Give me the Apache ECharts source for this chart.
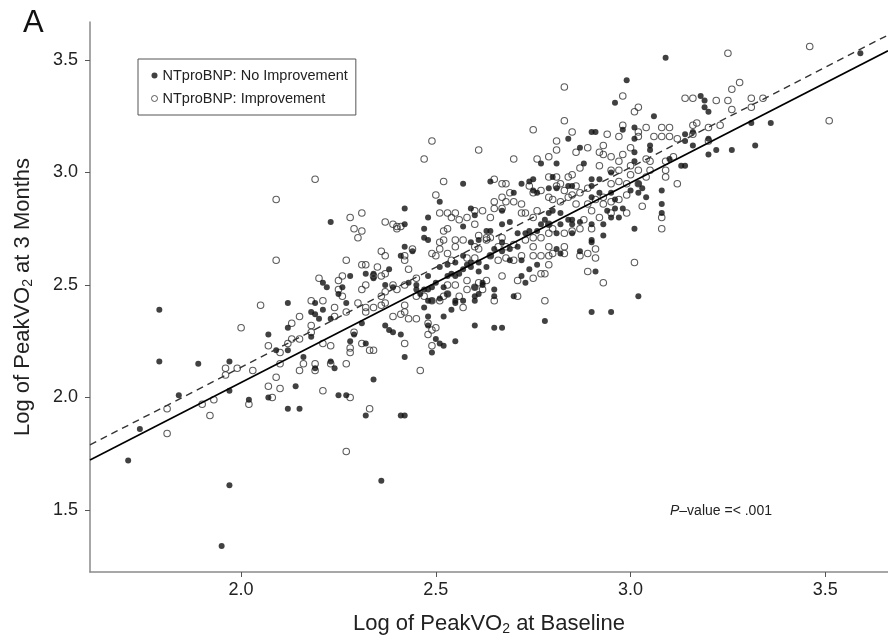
<!DOCTYPE html>
<html><head><meta charset="utf-8">
<script src="https://cdn.jsdelivr.net/npm/echarts@6/dist/echarts.min.js"></script>
<style>html,body{margin:0;padding:0;background:#fff}#c{width:888px;height:643px}</style>
</head><body><div id="c"></div>
<script>
const seriesNames = ['NTproBNP: No Improvement', 'NTproBNP: Improvement'];
const xTicks = [2.0, 2.5, 3.0, 3.5];
const yTicks = [1.5, 2.0, 2.5, 3.0, 3.5];
const xRange = [1.612, 3.661];
const yRange = [1.224, 3.669];

// filled circles
const noImprovement = [
[1.79,2.39],[1.79,2.16],[1.89,2.15],[1.84,2.01],[1.74,1.86],[1.71,1.72],[1.97,2.16],[1.97,2.03],[2.02,1.99],[1.97,1.61],[1.95,1.34],[2.07,2.28],[2.12,2.42],[2.12,2.31],[2.09,2.21],[2.12,2.21],[2.07,2.00],[2.12,1.95],[2.15,1.95],[2.14,2.05],[2.16,2.18],[2.18,2.27],[2.19,2.13],[2.19,2.42],[2.18,2.38],[2.19,2.37],[2.20,2.35],[2.21,2.39],[2.21,2.51],[2.22,2.49],[2.23,2.35],
[2.23,2.78],[2.42,2.84],[2.42,2.77],[2.48,2.80],[2.47,2.75],[2.47,2.71],[2.48,2.70],[2.51,2.87],[2.57,2.95],[2.64,2.96],[2.77,3.04],[2.59,2.84],[2.60,2.81],[2.57,2.76],[2.42,2.67],[2.44,2.65],[2.41,2.63],[2.28,2.54],[2.32,2.55],[2.34,2.55],[2.34,2.53],[2.37,2.50],[2.39,2.49],[2.26,2.49],[2.25,2.46],[2.27,2.42],[2.23,2.16],[2.24,2.13],[2.31,2.33],[2.28,2.25],[2.29,2.28],[2.32,2.24],[2.37,2.32],[2.38,2.30],[2.39,2.29],[2.41,2.28],[2.42,2.18],[2.34,2.08],[2.25,2.01],[2.27,2.01],[2.32,1.92],[2.41,1.92],[2.42,1.92],[2.49,2.20],[2.50,2.26],[2.51,2.24],[2.52,2.23],[2.55,2.25],[2.52,2.36],[2.48,2.36],[2.48,2.32],[2.47,2.40],[2.48,2.43],[2.49,2.43],[2.51,2.44],[2.53,2.46],[2.55,2.42],[2.54,2.39],[2.55,2.43],[2.57,2.43],[2.46,2.46],[2.47,2.48],[2.48,2.48],[2.45,2.48],[2.43,2.51],[2.45,2.50],[2.53,2.54],[2.54,2.55],[2.55,2.54],[2.57,2.57],[2.58,2.59],[2.59,2.58],[2.61,2.56],[2.61,2.60],[2.63,2.58],[2.64,2.63],[2.65,2.66],[2.67,2.69],[2.67,2.65],[2.69,2.66],[2.69,2.61],[2.71,2.67],[2.71,2.73],[2.73,2.73],[2.74,2.74],[2.76,2.74],[2.77,2.77],[2.78,2.79],[2.79,2.82],[2.76,2.91],[2.75,2.92],[2.74,2.96],[2.75,2.97],[2.72,2.95],[2.70,2.91],[2.67,2.83],[2.69,2.78],[2.67,2.77],[2.64,2.74],[2.63,2.74],[2.61,2.70],[2.59,2.69],[2.60,2.49],[2.60,2.45],[2.61,2.46],[2.62,2.50],[2.65,2.31],[2.67,2.31],[2.65,2.48],[2.65,2.45],[2.70,2.45],[2.73,2.51],[2.76,2.59],[2.78,2.34],[2.51,2.58],[2.53,2.59],[2.55,2.60],[2.57,2.63],[2.59,2.60],[2.56,2.55],[2.49,2.49],[2.50,2.51],[2.48,2.54],[2.52,2.49],[2.60,2.32],[2.60,2.43],[2.72,2.54],[2.74,2.57],[2.72,2.61],[2.62,2.51],[2.38,2.57],
[3.09,3.51],[2.99,3.41],[2.96,3.31],[3.06,3.25],[3.18,3.34],[3.19,3.32],[3.19,3.29],[3.20,3.27],[2.84,3.15],[2.87,3.11],[2.90,3.18],[2.91,3.18],[2.98,3.19],[3.01,3.15],[3.01,3.20],[3.05,3.12],[3.05,3.10],[3.01,3.05],[3.01,3.09],[3.14,3.17],[3.16,3.18],[3.14,3.14],[3.16,3.12],[3.20,3.15],[3.20,3.08],[3.22,3.10],[3.13,3.03],[3.14,3.03],[3.10,3.06],[2.81,3.04],[2.88,3.04],[2.95,3.00],[2.80,2.98],[2.84,2.94],[2.85,2.94],[2.90,2.97],[2.92,2.97],[2.90,2.94],[2.95,2.91],[2.92,2.91],[2.90,2.89],[2.96,2.88],[3.02,2.95],[3.02,2.91],[3.00,2.92],[3.03,2.93],[3.08,2.92],[3.08,2.86],[3.08,2.82],[3.04,2.89],[2.98,2.84],[2.96,2.84],[2.95,2.80],[2.97,2.80],[2.94,2.83],[2.93,2.77],[2.90,2.77],[2.87,2.78],[2.85,2.79],[2.82,2.82],[2.80,2.83],[2.79,2.77],[2.82,2.77],[2.84,2.79],[2.85,2.77],[2.81,2.73],[2.85,2.73],[2.93,2.72],[3.01,2.75],[2.90,2.70],[2.79,2.93],[2.81,2.93],
[2.90,2.69],[2.81,2.66],[2.82,2.64],[2.87,2.65],[2.91,2.56],[3.02,2.45],[2.90,2.38],[2.95,2.38],
[3.59,3.53],[3.31,3.22],[3.36,3.22],[3.26,3.10],[3.32,3.12],
[2.36,1.63]
];

// open circles
const improvement = [
[2.05,2.41],[2.00,2.31],[2.07,2.23],[1.96,2.13],[1.96,2.10],[1.99,2.13],[2.03,2.12],[1.81,1.95],[1.81,1.84],[1.90,1.97],[1.93,1.99],[1.92,1.92],[2.02,1.97],[2.07,2.05],[2.08,2.00],[2.09,2.09],[2.10,2.04],[2.10,2.20],[2.10,2.15],[2.12,2.24],[2.13,2.26],[2.13,2.33],[2.15,2.36],[2.15,2.26],[2.15,2.12],[2.16,2.15],[2.18,2.43],[2.21,2.43],[2.18,2.32],[2.18,2.29],[2.19,2.15],[2.19,2.12],[2.21,2.24],[2.21,2.03],[2.23,2.23],[2.23,2.15],
[2.19,2.97],[2.47,3.06],[2.61,3.10],[2.70,3.06],[2.76,3.06],[2.52,2.96],[2.50,2.90],[2.65,2.97],[2.28,2.80],[2.31,2.82],[2.29,2.75],[2.31,2.74],[2.30,2.71],[2.37,2.78],[2.39,2.77],[2.40,2.76],[2.40,2.75],[2.41,2.76],[2.27,2.61],[2.36,2.65],[2.37,2.63],[2.42,2.63],[2.42,2.61],[2.44,2.66],[2.31,2.59],[2.32,2.59],[2.35,2.58],[2.37,2.55],[2.43,2.57],[2.45,2.53],[2.20,2.53],[2.26,2.54],[2.25,2.52],[2.25,2.48],[2.26,2.45],[2.32,2.50],[2.31,2.48],[2.24,2.40],[2.24,2.36],[2.27,2.38],[2.32,2.38],[2.34,2.40],[2.36,2.41],[2.39,2.36],[2.41,2.37],[2.42,2.38],[2.43,2.35],[2.45,2.35],[2.42,2.41],[2.48,2.33],[2.50,2.31],[2.49,2.30],[2.48,2.28],[2.29,2.29],[2.31,2.24],[2.33,2.21],[2.34,2.21],[2.28,2.22],[2.28,2.20],[2.27,2.15],[2.42,2.24],[2.49,2.23],[2.46,2.12],[2.28,2.00],[2.33,1.95],[2.51,2.82],[2.53,2.82],[2.54,2.80],[2.55,2.82],[2.56,2.79],[2.58,2.80],[2.60,2.83],[2.62,2.83],[2.64,2.80],[2.60,2.77],[2.61,2.72],[2.63,2.71],[2.52,2.74],[2.53,2.75],[2.51,2.69],[2.52,2.70],[2.55,2.70],[2.57,2.70],[2.55,2.67],[2.51,2.66],[2.49,2.64],[2.50,2.63],[2.53,2.64],[2.54,2.61],[2.58,2.62],[2.60,2.67],[2.60,2.62],[2.61,2.66],[2.63,2.70],[2.64,2.71],[2.67,2.71],[2.66,2.67],[2.68,2.67],[2.70,2.68],[2.64,2.63],[2.66,2.61],[2.68,2.62],[2.70,2.61],[2.72,2.63],[2.75,2.63],[2.77,2.63],[2.79,2.63],[2.67,2.95],[2.68,2.95],[2.69,2.91],[2.67,2.89],[2.65,2.87],[2.65,2.84],[2.67,2.84],[2.68,2.87],[2.70,2.87],[2.72,2.86],[2.72,2.82],[2.73,2.82],[2.75,2.91],[2.77,2.92],[2.74,2.94],[2.79,2.98],[2.79,2.89],[2.76,2.83],[2.75,2.80],[2.79,2.77],[2.79,2.73],[2.77,2.71],[2.75,2.71],[2.73,2.70],[2.75,2.67],[2.79,2.59],[2.78,2.55],[2.77,2.55],[2.75,2.53],[2.71,2.52],[2.67,2.54],[2.58,2.48],[2.60,2.49],[2.62,2.48],[2.52,2.45],[2.53,2.46],[2.51,2.43],[2.49,2.43],[2.53,2.50],[2.55,2.50],[2.47,2.45],[2.45,2.45],[2.57,2.40],[2.56,2.45],[2.63,2.52],[2.61,2.51],[2.58,2.52],[2.65,2.43],[2.71,2.45],[2.78,2.43],[2.42,2.50],[2.40,2.48],[2.37,2.47],[2.39,2.50],[2.36,2.45],[2.37,2.42],[2.32,2.40],[2.30,2.42],[2.34,2.54],[2.36,2.54],
[3.25,3.53],[2.83,3.38],[2.98,3.34],[3.01,3.27],[3.02,3.29],[3.14,3.33],[3.16,3.33],[3.22,3.32],[3.25,3.32],[2.83,3.23],[2.85,3.18],[2.81,3.14],[2.81,3.10],[2.86,3.09],[2.89,3.11],[2.94,3.17],[2.98,3.21],[2.97,3.16],[3.00,3.11],[3.02,3.16],[3.02,3.18],[3.04,3.20],[3.08,3.20],[3.10,3.20],[3.10,3.16],[3.06,3.16],[3.08,3.16],[3.12,3.15],[3.11,3.07],[3.09,3.05],[3.09,3.01],[3.09,2.98],[3.12,2.95],[3.16,3.21],[3.17,3.22],[3.16,3.17],[3.20,3.20],[3.23,3.21],[3.20,3.14],[2.93,3.12],[2.92,3.09],[2.93,3.08],[2.95,3.07],[2.98,3.08],[2.97,3.05],[2.92,3.03],[2.95,3.01],[2.97,3.01],[3.00,3.03],[3.00,2.99],[3.02,3.01],[3.05,3.01],[3.04,3.06],[3.05,3.05],[3.04,2.98],[3.02,2.95],[2.99,2.95],[2.97,2.96],[2.95,2.95],[2.87,3.02],[2.85,2.99],[2.84,2.98],[2.81,2.98],[2.82,2.95],[2.81,2.94],[2.86,2.94],[2.89,2.93],[2.87,2.91],[2.85,2.90],[2.83,2.92],[2.80,2.88],[2.82,2.87],[2.84,2.89],[2.86,2.86],[2.89,2.86],[2.91,2.88],[2.93,2.89],[2.93,2.86],[2.95,2.87],[2.97,2.88],[2.99,2.90],[2.99,2.82],[3.03,2.85],[3.08,2.80],[3.08,2.75],[2.95,2.82],[2.92,2.80],[2.90,2.75],[2.87,2.75],[2.85,2.74],[2.83,2.73],[2.80,2.75],[2.88,2.79],[2.90,2.83],
[2.79,2.67],[2.83,2.67],[2.83,2.64],[2.80,2.64],[2.87,2.63],[2.89,2.64],[2.91,2.66],[2.91,2.62],[2.89,2.56],[2.93,2.51],[3.01,2.60],
[3.46,3.56],[3.28,3.40],[3.26,3.37],[3.31,3.33],[3.34,3.33],[3.31,3.29],[3.26,3.28],[3.51,3.23],
[2.09,2.88],[2.09,2.61],[2.49,3.14],[2.75,3.19],[2.79,3.07],[2.27,1.76]
];

// regression lines (end points read at the plot edges)
const fitNoImprovement = [[1.612, 1.722], [3.661, 3.541]];
const fitImprovement = [[1.612, 1.789], [3.661, 3.611]];

const FONT = '"Liberation Sans", Arial, Helvetica, sans-serif';
const chart = echarts.init(document.getElementById('c'), null, {renderer: 'canvas'});
const fmt = v => Number(v).toFixed(1);

chart.setOption({
  animation: false,
  backgroundColor: '#ffffff',
  grid: {left: 90, right: 0, top: 22, bottom: 71, containLabel: false},
  legend: {
    orient: 'vertical', left: 138, top: 59,
    padding: [9, 8, 9, 13], itemWidth: 6, itemHeight: 6, itemGap: 8,
    borderColor: '#555', borderWidth: 1, selectedMode: false,
    textStyle: {fontSize: 14.5, color: '#222', fontFamily: FONT, lineHeight: 14},
    data: [
      {name: seriesNames[0], icon: 'circle', itemStyle: {color: '#111', borderWidth: 0}},
      {name: seriesNames[1], icon: 'circle', itemStyle: {color: '#fff', borderColor: '#333', borderWidth: 1}}
    ]
  },
  xAxis: {
    type: 'value', min: xRange[0], max: xRange[1],
    axisLine: {show: true, onZero: false, lineStyle: {color: '#8a8a8a', width: 1.5}},
    axisTick: {show: true, customValues: xTicks, length: 5, lineStyle: {color: '#555', width: 1}},
    axisLabel: {customValues: xTicks, formatter: fmt, fontSize: 18, color: '#222', margin: 9, fontFamily: FONT},
    splitLine: {show: false},
    name: 'Log of PeakVO{sub|2} at Baseline', nameLocation: 'middle', nameGap: 40,
    nameTextStyle: {fontSize: 22, color: '#222', fontFamily: FONT, lineHeight: 24,
      rich: {sub: {fontSize: 14, fontFamily: FONT, color: '#222', verticalAlign: 'bottom', lineHeight: 12}}}
  },
  yAxis: {
    type: 'value', min: yRange[0], max: yRange[1],
    axisLine: {show: true, onZero: false, lineStyle: {color: '#8a8a8a', width: 1.5}},
    axisTick: {show: true, customValues: yTicks, length: 5, lineStyle: {color: '#555', width: 1}},
    axisLabel: {customValues: yTicks, formatter: fmt, fontSize: 18, color: '#222', margin: 12, fontFamily: FONT},
    splitLine: {show: false},
    name: 'Log of PeakVO{sub|2} at 3 Months', nameLocation: 'middle', nameGap: 55,
    nameTextStyle: {fontSize: 22, color: '#222', fontFamily: FONT, lineHeight: 24,
      rich: {sub: {fontSize: 14, fontFamily: FONT, color: '#222', verticalAlign: 'bottom', lineHeight: 12}}}
  },
  series: [
    {
      name: seriesNames[1], type: 'scatter', data: improvement, z: 2,
      symbol: 'circle', symbolSize: 6.5,
      itemStyle: {color: 'rgba(255,255,255,0)', borderColor: '#333', borderWidth: 1.1},
      emphasis: {disabled: true}
    },
    {
      name: seriesNames[0], type: 'scatter', data: noImprovement, z: 3,
      symbol: 'circle', symbolSize: 6,
      itemStyle: {color: '#111', borderWidth: 0},
      emphasis: {disabled: true}
    },
    {
      type: 'line', data: fitNoImprovement, showSymbol: false, silent: true, z: 4,
      lineStyle: {color: '#000', width: 1.6}
    },
    {
      type: 'line', data: fitImprovement, showSymbol: false, silent: true, z: 4,
      lineStyle: {color: '#333', width: 1.4, type: [7, 5]}
    }
  ],
  graphic: [
    {type: 'text', left: 23, top: 8, style: {text: 'A', fontSize: 31, fill: '#111', fontFamily: FONT}},
    {type: 'text', left: 670, top: 504, style: {
      text: '{i|P}{n|–value =< .001}',
      rich: {
        i: {fontStyle: 'italic', fontSize: 14, fill: '#222', fontFamily: FONT},
        n: {fontSize: 14, fill: '#222', fontFamily: FONT}
      }
    }}
  ]
});
</script>
</body></html>
